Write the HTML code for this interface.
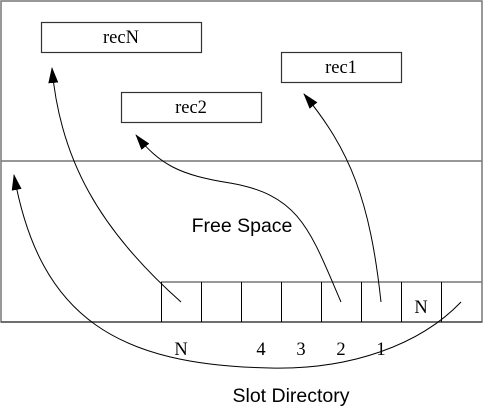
<!DOCTYPE html>
<html><head><style>body{margin:0;background:#fff}svg{display:block}</style></head>
<body>
<svg width="483" height="410" viewBox="0 0 483 410" xmlns="http://www.w3.org/2000/svg">
<defs><marker id="b" markerWidth="16" markerHeight="12" refX="15" refY="6" orient="auto" markerUnits="userSpaceOnUse"><path d="M0,1 L16,6 L0,11 Z" fill="#000"/></marker></defs>
<rect x="1" y="1" width="481" height="321" fill="none" stroke="#777" stroke-width="1.5"/>
<line x1="1" y1="161" x2="482" y2="161" stroke="#777" stroke-width="1.5"/>
<line x1="161" y1="282" x2="482" y2="282" stroke="#777" stroke-width="1.5"/>
<line x1="1" y1="322" x2="482" y2="322" stroke="#555" stroke-width="1.5"/>
<g stroke="#000" stroke-width="1">
<line x1="161.5" y1="282" x2="161.5" y2="322"/><line x1="201.5" y1="282" x2="201.5" y2="322"/>
<line x1="241.5" y1="282" x2="241.5" y2="322"/><line x1="281.5" y1="282" x2="281.5" y2="322"/>
<line x1="321.5" y1="282" x2="321.5" y2="322"/><line x1="361.5" y1="282" x2="361.5" y2="322"/>
<line x1="401.5" y1="282" x2="401.5" y2="322"/><line x1="441.5" y1="282" x2="441.5" y2="322"/>
</g>
<g fill="#fff" stroke="#333" stroke-width="1.2">
<rect x="41.5" y="22.5" width="160" height="30"/>
<rect x="281.5" y="52.5" width="120" height="30"/>
<rect x="121.5" y="92.5" width="140" height="30"/>
</g>
<g font-family="Liberation Serif, serif" font-size="18.5" text-anchor="middle" fill="#000">
<text x="121" y="43">recN</text><text x="341" y="73">rec1</text><text x="191" y="113">rec2</text>
<text x="421" y="313">N</text>
<text x="181" y="355">N</text><text x="261" y="355">4</text><text x="301" y="355">3</text><text x="341" y="355">2</text><text x="381" y="355">1</text>
</g>
<g font-family="Liberation Sans, sans-serif" font-size="19.5" text-anchor="middle" fill="#000">
<text x="242" y="232">Free Space</text><text x="291" y="402">Slot Directory</text>
</g>
<g fill="none" stroke="#000" stroke-width="1">
<path d="M181,302 C100,230 60,160 52,68" marker-end="url(#b)"/>
<path d="M341,302 C310,230 300,195 230,183 C180,175 160,165 136,135" marker-end="url(#b)"/>
<path d="M381,302 C370,200 350,150 304,94" marker-end="url(#b)"/>
<path d="M461,302 C420,345 350,370 270,368 C120,365 40,320 14,175" marker-end="url(#b)"/>
</g>
</svg>
</body></html>
